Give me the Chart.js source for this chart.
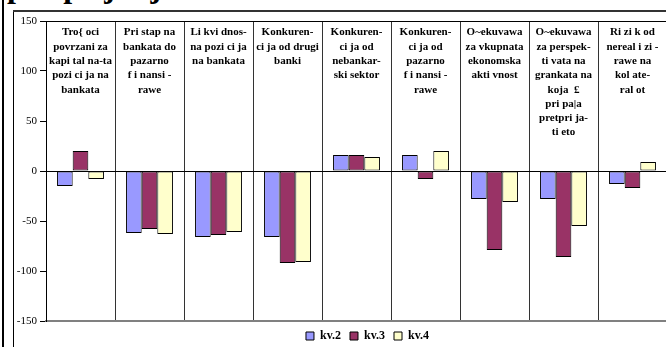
<!DOCTYPE html>
<html>
<head>
<meta charset="utf-8">
<script src="https://cdn.jsdelivr.net/npm/chart.js@4.4.0/dist/chart.umd.min.js"></script>
<style>
  html, body { margin: 0; padding: 0; background: #fff; overflow: hidden; width: 666px; height: 347px; position: relative; }
  #pageLine { position: absolute; left: 2px; top: 0; width: 2px; height: 347px; background: #000; }
  #frameLeft { position: absolute; left: 13px; top: 11px; width: 1px; height: 336px; background: #000; }
  #frameTop { position: absolute; left: 13px; top: 10px; width: 653px; height: 2px; background: #333; }
  #title { position: absolute; left: 7px; top: -30px; font-family: "Liberation Serif"; font-weight: bold; font-size: 32px; line-height: 32px; white-space: nowrap; }
  #chart { position: absolute; left: 0; top: 0; }
</style>
</head>
<body>
<div id="pageLine"></div>
<div id="frameLeft"></div>
<div id="frameTop"></div>
<div id="title">pretprijatija</div>
<canvas id="chart" width="680" height="352"></canvas>
<script>
// categories (one array of lines per column, as printed in the chart)
const categories = [
  ['Tro{ oci', 'povrzani za', 'kapi tal na-ta', 'pozi ci ja na', 'bankata'],
  ['Pri stap na', 'bankata do', 'pazarno', 'f i nansi -', 'rawe'],
  ['Li kvi dnos-', 'na pozi ci ja', 'na bankata'],
  ['Konkuren-', 'ci ja od drugi', 'banki'],
  ['Konkuren-', 'ci ja od', 'nebankar-', 'ski sektor'],
  ['Konkuren-', 'ci ja od', 'pazarno', 'f i nansi -', 'rawe'],
  ['O~ekuvawa', 'za vkupnata', 'ekonomska', 'akti vnost'],
  ['O~ekuvawa', 'za perspek-', 'ti vata na', 'grankata na', 'koja  \u00a3', 'pri pa|a', 'pretpri ja-', 'ti eto'],
  ['Ri zi k od', 'nereal i zi -', 'rawe na', 'kol ate-', 'ral ot']
];

const seriesNames = ['kv.2', 'kv.3', 'kv.4'];
const kv2 = [-15, -62, -66, -66, 16, 16, -28, -28, -13];
const kv3 = [20, -58, -64, -92, 16, -8, -79, -86, -17];
const kv4 = [-8, -63, -61, -91, 14, 20, -31, -55, 9];
const yTicks = [-150, -100, -50, 0, 50, 100, 150];

const serif = '"Liberation Serif", "Times New Roman", serif';

/* -----------------------------
   Column headings inside the plot
------------------------------ */
const headingPlugin = {
  id: 'headings',
  afterDatasetsDraw(chart) {
    const ctx = chart.ctx;
    const xs = chart.scales.x;
    const top = chart.chartArea.top;
    ctx.save();
    ctx.fillStyle = '#000';
    ctx.font = 'bold 11px ' + serif;
    ctx.textAlign = 'center';
    ctx.textBaseline = 'middle';
    categories.forEach((lines, i) => {
      const cx = xs.getPixelForValue(i);
      lines.forEach((t, k) => ctx.fillText(t, cx, top + 11.5 + k * 14.3));
    });
    ctx.restore();
  }
};

/* -----------------------------
   Legend sits right of centre (frame is cropped)
------------------------------ */
const legendShift = {
  id: 'legendShift',
  afterLayout(chart) {
    chart.legend.left += 34;
    chart.legend.right += 34;
  }
};

new Chart(document.getElementById('chart'), {
  type: 'bar',
  data: {
    labels: categories,
    datasets: [
      { label: seriesNames[0], data: kv2, backgroundColor: '#9999FF' },
      { label: seriesNames[1], data: kv3, backgroundColor: '#993366' },
      { label: seriesNames[2], data: kv4, backgroundColor: '#FFFFCC' }
    ].map(d => Object.assign(d, {
      borderColor: '#000',
      borderWidth: 1,
      borderSkipped: false,
      categoryPercentage: 0.68,
      barPercentage: 1.0
    }))
  },
  options: {
    responsive: false,
    animation: false,
    layout: { padding: { top: 21, right: 13, left: 0, bottom: 0 } },
    plugins: {
      tooltip: { enabled: false },
      title: { display: false },
      legend: {
        display: true,
        position: 'bottom',
        labels: {
          boxWidth: 8,
          boxHeight: 8,
          padding: 9,
          color: '#000',
          font: { family: serif, size: 12, weight: 'bold' }
        }
      }
    },
    scales: {
      x: {
        ticks: { display: false },
        grid: { display: true, offset: true, color: '#333', lineWidth: 1, drawTicks: false },
        border: { display: true, color: '#808080', width: 2 }
      },
      y: {
        min: yTicks[0],
        max: yTicks[yTicks.length - 1],
        afterFit(scale) { scale.width = 46; },
        afterBuildTicks(scale) { scale.ticks = yTicks.map(v => ({ value: v })); },
        ticks: {
          color: '#000',
          padding: 3,
          font: { family: serif, size: 11 }
        },
        grid: {
          drawTicks: true,
          tickLength: 6,
          tickColor: '#000',
          color: c => (c.tick && (c.tick.value === 0 || c.tick.value === 150)) ? '#000' : 'rgba(0,0,0,0)'
        },
        border: { display: true, color: '#000', width: 1 }
      }
    }
  },
  plugins: [headingPlugin, legendShift]
});
</script>
</body>
</html>
